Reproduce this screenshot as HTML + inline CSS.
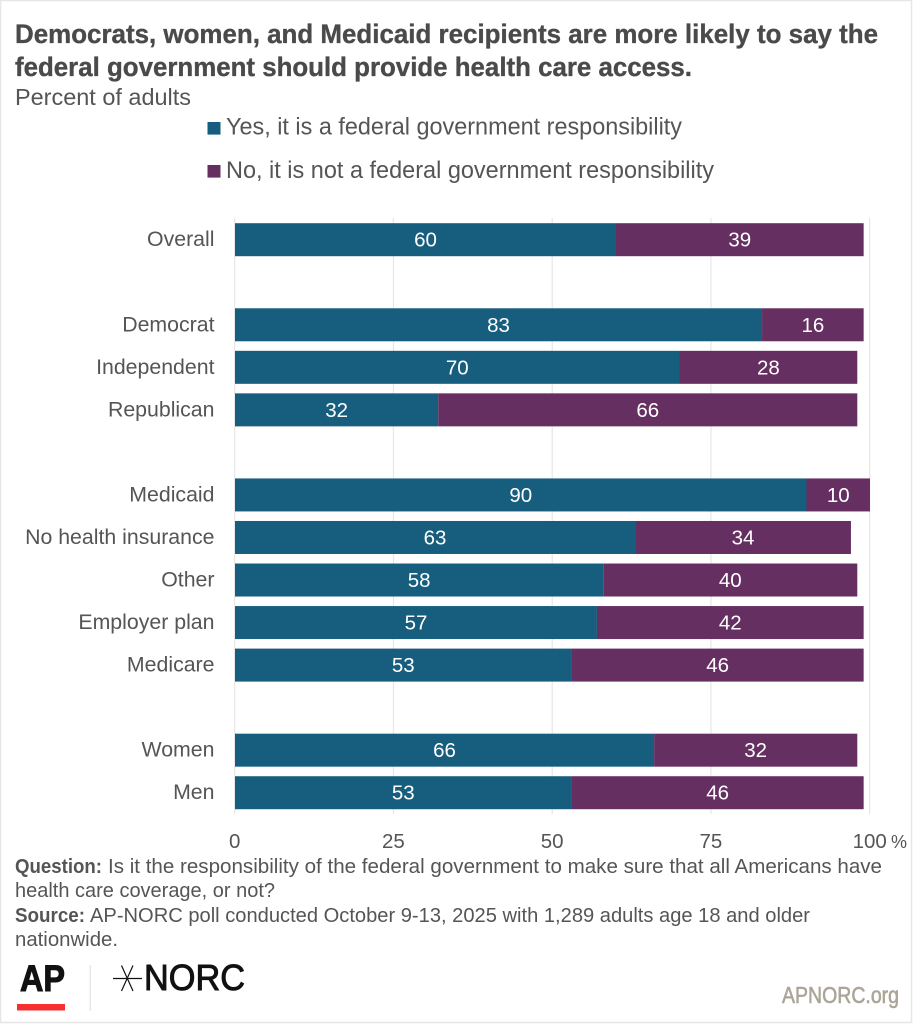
<!DOCTYPE html>
<html lang="en">
<head>
<meta charset="utf-8">
<title>AP-NORC health care responsibility chart</title>
<style>
html,body{margin:0;padding:0;background:#fff;}
svg{display:block;}
text{font-family:"Liberation Sans",sans-serif;}
</style>
</head>
<body>
<svg id="chart" xmlns="http://www.w3.org/2000/svg" width="913" height="1024" viewBox="0 0 913 1024">
  <rect x="0" y="0" width="913" height="1024" fill="#fff"/>
  <rect x="0.5" y="0.5" width="911" height="1022" fill="none" stroke="#e6e6e6" stroke-width="1.5"/>

  <text x="15" y="43" font-size="26.5" font-weight="700" fill="#4a4a4a" stroke="#4a4a4a" stroke-width="0.35" textLength="863" lengthAdjust="spacingAndGlyphs">Democrats, women, and Medicaid recipients are more likely to say the</text>
  <text x="15" y="76" font-size="26.5" font-weight="700" fill="#4a4a4a" stroke="#4a4a4a" stroke-width="0.35" textLength="677" lengthAdjust="spacingAndGlyphs">federal government should provide health care access.</text>
  <text x="15" y="105" font-size="23" fill="#555" textLength="176" lengthAdjust="spacingAndGlyphs">Percent of adults</text>

  <rect x="207.5" y="122" width="13" height="12.6" fill="#175e7e"/>
  <text x="226" y="134.5" font-size="24" fill="#555" textLength="456" lengthAdjust="spacingAndGlyphs">Yes, it is a federal government responsibility</text>
  <rect x="207.5" y="165" width="13" height="12.6" fill="#662f62"/>
  <text x="226" y="178" font-size="24" fill="#555" textLength="488" lengthAdjust="spacingAndGlyphs">No, it is not a federal government responsibility</text>

  <g id="grid"></g>
  <g id="bars"></g>
  <g id="cats"></g>
  <g id="ticks"></g>

  <text x="15" y="873" font-size="20.5" font-weight="700" fill="#555" textLength="87" lengthAdjust="spacingAndGlyphs">Question:</text>
  <text x="108" y="873" font-size="20.5" fill="#555" textLength="774" lengthAdjust="spacingAndGlyphs">Is it the responsibility of the federal government to make sure that all Americans have</text>
  <text x="15" y="897" font-size="20.5" fill="#555" textLength="260" lengthAdjust="spacingAndGlyphs">health care coverage, or not?</text>
  <text x="15" y="922" font-size="20.5" font-weight="700" fill="#555" textLength="70" lengthAdjust="spacingAndGlyphs">Source:</text>
  <text x="90" y="922" font-size="20.5" fill="#555" textLength="720" lengthAdjust="spacingAndGlyphs">AP-NORC poll conducted October 9-13, 2025 with 1,289 adults age 18 and older</text>
  <text x="15" y="946" font-size="20.5" fill="#555" textLength="103" lengthAdjust="spacingAndGlyphs">nationwide.</text>

  <g>
    <text x="20" y="991" font-size="37" font-weight="700" fill="#111" stroke="#111" stroke-width="1.1" textLength="45" lengthAdjust="spacingAndGlyphs">AP</text>
    <rect x="17" y="1004" width="48" height="6.5" fill="#f5302f"/>
  </g>
  <rect x="89.7" y="965" width="1" height="46" fill="#ddd"/>
  <g>
    <g stroke="#111" stroke-width="1.2" fill="none">
      <path d="M113 978.5 H142 M121.5 965.5 L133 991 M133 965.5 L121.5 991"/>
    </g>
    <text x="144" y="990" font-size="36" fill="#111" stroke="#111" stroke-width="0.9" textLength="101" lengthAdjust="spacingAndGlyphs">NORC</text>
  </g>
  <text x="782" y="1003" font-size="23.5" fill="#aba598" stroke="#aba598" stroke-width="0.6" textLength="117" lengthAdjust="spacingAndGlyphs">APNORC.org</text>
</svg>
<script>
var categories = ['Overall', '', 'Democrat', 'Independent', 'Republican', '', 'Medicaid', 'No health insurance', 'Other', 'Employer plan', 'Medicare', '', 'Women', 'Men'];
var yesValues = [60, null, 83, 70, 32, null, 90, 63, 58, 57, 53, null, 66, 53];
var noValues = [39, null, 16, 28, 66, null, 10, 34, 40, 42, 46, null, 32, 46];
var xTickValues = [0, 25, 50, 75, 100];

var NS = 'http://www.w3.org/2000/svg';
function xScale(v) { return 235 + v * 6.35; }
function yScale(i) { return 223.2 + i * 42.54; }
var BAR_H = 33;
function make(tag, parent, props, text) {
  var el = document.createElementNS(NS, tag);
  for (var k in props) { el.setAttribute(k, props[k]); }
  if (text !== undefined) { el.textContent = text; }
  parent.appendChild(el);
  return el;
}
var gridG = document.getElementById('grid');
var barsG = document.getElementById('bars');
var catsG = document.getElementById('cats');
var ticksG = document.getElementById('ticks');

xTickValues.forEach(function (t) {
  var line = make('line', gridG, {x1: xScale(t) - 0.3, x2: xScale(t) - 0.3, y1: 218, y2: 814, stroke: '#e6e6e6', 'stroke-width': 1.2});
  
  
  var label = make('text', ticksG, {x: xScale(t) - 0.3, y: 848, 'font-size': 20.5, fill: '#555', 'text-anchor': 'middle'}, String(t));
  
  
  if (t === xTickValues[xTickValues.length - 1]) {
    var pct = make('text', ticksG, {x: xScale(t) + 21, y: 848, 'font-size': 18, fill: '#555'}, '%');
    
    
  }
});

categories.forEach(function (c, i) {
  if (!c) { return; }
  var y = yScale(i);
  var cat = make('text', catsG, {x: 214.5, y: y + 23, 'font-size': 21.3, fill: '#555', 'text-anchor': 'end'}, c);
  
  

  var yes = yesValues[i], no = noValues[i];
  var r1 = make('rect', barsG, {x: xScale(0), y: y, width: xScale(yes) - xScale(0), height: BAR_H, fill: '#175e7e'});
  
  
  var r2 = make('rect', barsG, {x: xScale(yes), y: y, width: xScale(yes + no) - xScale(yes), height: BAR_H, fill: '#662f62'});
  
  
  var t1 = make('text', barsG, {x: (xScale(0) + xScale(yes)) / 2, y: y + 23.5, 'font-size': 20.5, fill: '#fff', 'text-anchor': 'middle'}, String(yes));
  
  
  var t2 = make('text', barsG, {x: (xScale(yes) + xScale(yes + no)) / 2, y: y + 23.5, 'font-size': 20.5, fill: '#fff', 'text-anchor': 'middle'}, String(no));
  
  
});
</script>
</body>
</html>
